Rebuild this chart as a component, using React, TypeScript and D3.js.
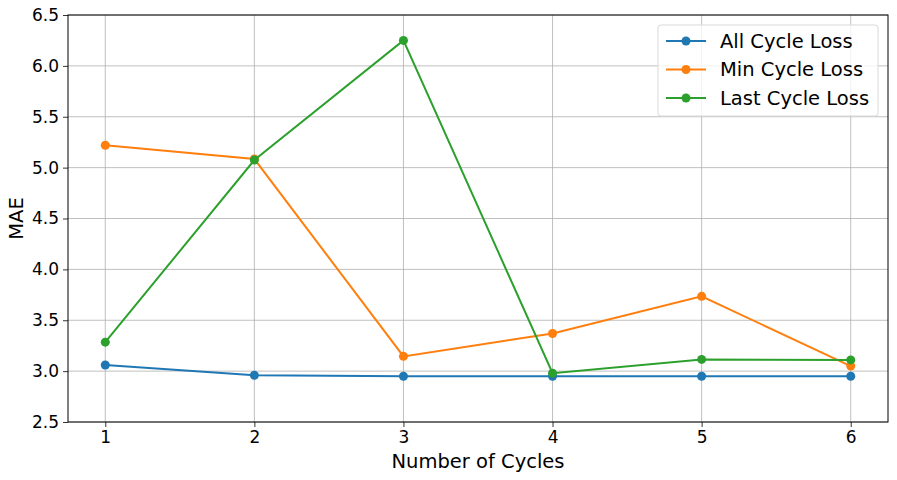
import { useEffect, useRef } from 'react';
import * as d3 from 'd3';

const cycles = [1, 2, 3, 4, 5, 6];
const allCycleLoss = [3.06, 2.96, 2.95, 2.95, 2.95, 2.95];
const minCycleLoss = [5.22, 5.085, 3.145, 3.37, 3.735, 3.05];
const lastCycleLoss = [3.285, 5.075, 6.25, 2.98, 3.115, 3.11];
const yTicks = [2.5, 3.0, 3.5, 4.0, 4.5, 5.0, 5.5, 6.0, 6.5];

const SERIES = [
  { label: 'All Cycle Loss', color: '#1f77b4', values: allCycleLoss },
  { label: 'Min Cycle Loss', color: '#ff7f0e', values: minCycleLoss },
  { label: 'Last Cycle Loss', color: '#2ca02c', values: lastCycleLoss },
];

export default function App() {
  const svgRef = useRef<SVGSVGElement>(null);

  useEffect(() => {
    if (!svgRef.current) return;
    const width = 897;
    const height = 480;
    const m = { left: 68, right: 9, top: 15, bottom: 58 };

    const svg = d3.select(svgRef.current);
    svg.selectAll('*').remove();
    svg.attr('width', width).attr('height', height)
      .style('font-family', '"DejaVu Sans", sans-serif');

    const x = d3.scaleLinear().domain([0.75, 6.25]).range([m.left, width - m.right]);
    const y = d3.scaleLinear().domain([2.5, 6.5]).range([height - m.bottom, m.top]);

    // grid
    const grid = svg.append('g');
    cycles.forEach((c) => {
      grid.append('line')
        .attr('x1', x(c)).attr('x2', x(c))
        .attr('y1', y(2.5)).attr('y2', y(6.5))
        .attr('stroke', '#b0b0b0').attr('stroke-width', 0.8);
    });
    yTicks.forEach((t) => {
      grid.append('line')
        .attr('x1', x(0.75)).attr('x2', x(6.25))
        .attr('y1', y(t)).attr('y2', y(t))
        .attr('stroke', '#b0b0b0').attr('stroke-width', 0.8);
    });

    // axes
    const xAxis = svg.append('g')
      .attr('transform', `translate(0,${y(2.5)})`)
      .call(d3.axisBottom(x).tickValues(cycles).tickFormat(d3.format('d')).tickSize(5).tickPadding(4));
    const yAxis = svg.append('g')
      .attr('transform', `translate(${x(0.75)},0)`)
      .call(d3.axisLeft(y).tickValues(yTicks).tickFormat(d3.format('.1f')).tickSize(5).tickPadding(4));
    [xAxis, yAxis].forEach((a) => {
      a.select('.domain').remove();
      a.selectAll('text').attr('font-size', 17).attr('fill', '#000')
        .style('font-family', '"DejaVu Sans", sans-serif');
      a.selectAll('line').attr('stroke', '#000').attr('stroke-width', 0.8);
    });

    svg.append('rect')
      .attr('x', x(0.75)).attr('y', y(6.5))
      .attr('width', x(6.25) - x(0.75)).attr('height', y(2.5) - y(6.5))
      .attr('fill', 'none').attr('stroke', '#000').attr('stroke-width', 1);

    // lines
    const line = d3.line<number>().x((_, i) => x(cycles[i])).y((d) => y(d));
    SERIES.forEach((s) => {
      svg.append('path')
        .attr('d', line(s.values))
        .attr('fill', 'none')
        .attr('stroke', s.color)
        .attr('stroke-width', 2);
      s.values.forEach((v, i) => {
        svg.append('circle')
          .attr('cx', x(cycles[i])).attr('cy', y(v))
          .attr('r', 4.5).attr('fill', s.color);
      });
    });

    // labels
    svg.append('text')
      .attr('x', (x(0.75) + x(6.25)) / 2).attr('y', 468)
      .attr('text-anchor', 'middle').attr('font-size', 19.5)
      .text('Number of Cycles');
    svg.append('text')
      .attr('transform', `translate(23,${(y(2.5) + y(6.5)) / 2}) rotate(-90)`)
      .attr('text-anchor', 'middle').attr('font-size', 19.5)
      .text('MAE');

    // legend
    const lg = svg.append('g').attr('transform', 'translate(658,25)');
    lg.append('rect')
      .attr('width', 220).attr('height', 91).attr('rx', 3)
      .attr('fill', 'rgba(255,255,255,0.8)')
      .attr('stroke', '#d9d9d9').attr('stroke-width', 1);
    SERIES.forEach((s, i) => {
      const yy = 16 + i * 28.5;
      lg.append('line')
        .attr('x1', 8).attr('x2', 48).attr('y1', yy).attr('y2', yy)
        .attr('stroke', s.color).attr('stroke-width', 2);
      lg.append('circle').attr('cx', 28).attr('cy', yy).attr('r', 4.5).attr('fill', s.color);
      lg.append('text')
        .attr('x', 62).attr('y', yy)
        .attr('dominant-baseline', 'central')
        .attr('font-size', 19.5)
        .text(s.label);
    });
  }, []);

  return <svg ref={svgRef} style={{ display: 'block', margin: '-8px' }} />;
}
